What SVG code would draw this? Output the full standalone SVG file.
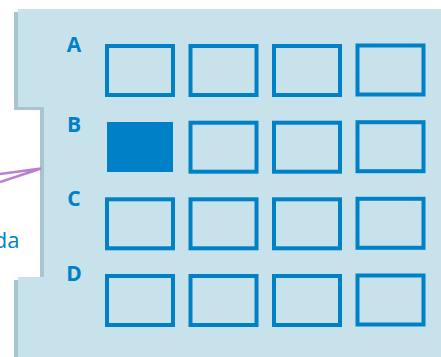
<svg xmlns="http://www.w3.org/2000/svg" width="441" height="357" viewBox="0 0 441 357">
<style>
.lbl{font-family:"Open Sans","Liberation Sans",sans-serif;font-weight:700;font-size:21px;fill:#0080c7;text-anchor:middle}
.box{fill:none;stroke:#0080c7;stroke-width:4}
.fill{fill:#0080c7}
</style>
<defs>
<path id="panel" d="M18,9 H441 V357 H18 V277 H44 V107 H18 Z"/>
</defs>
<rect width="441" height="357" fill="#ffffff"/>
<use href="#panel" transform="translate(-4,3)" fill="#a8c4cf"/>
<use href="#panel" fill="#c7e2eb"/>
<g id="label-row-A"><text class="lbl" x="74" y="52">A</text></g>
<g id="label-row-B"><text class="lbl" x="74" y="132">B</text></g>
<g id="label-row-C"><text class="lbl" x="74" y="206">C</text></g>
<g id="label-row-D"><text class="lbl" x="74" y="281">D</text></g>
<g id="A1"><rect class="box" x="107" y="46" width="66" height="49"/></g>
<g id="A2"><rect class="box" x="190.5" y="46" width="66" height="49"/></g>
<g id="A3"><rect class="box" x="274" y="46" width="66" height="49"/></g>
<g id="A4"><rect class="box" x="357.5" y="45.5" width="66" height="49"/></g>
<g id="B1"><rect class="fill" x="107" y="122" width="66" height="50"/></g>
<g id="B2"><rect class="box" x="190.5" y="122.7" width="66" height="49"/></g>
<g id="B3"><rect class="box" x="274" y="122.7" width="66" height="49"/></g>
<g id="B4"><rect class="box" x="357.5" y="122.2" width="66" height="49"/></g>
<g id="C1"><rect class="box" x="107" y="199.3" width="66" height="49"/></g>
<g id="C2"><rect class="box" x="190.5" y="199.3" width="66" height="49"/></g>
<g id="C3"><rect class="box" x="274" y="199.3" width="66" height="49"/></g>
<g id="C4"><rect class="box" x="357.5" y="198.8" width="66" height="49"/></g>
<g id="D1"><rect class="box" x="107" y="276" width="66" height="49"/></g>
<g id="D2"><rect class="box" x="190.5" y="276" width="66" height="49"/></g>
<g id="D3"><rect class="box" x="274" y="276" width="66" height="49"/></g>
<g id="D4"><rect class="box" x="357.5" y="275.5" width="66" height="49"/></g>
<g id="connectors">
<polyline points="0,174 41,168.5 0,182" fill="none" stroke="#b980d2" stroke-width="2.5" stroke-linejoin="miter"/>
</g>
<g id="caption"><text x="19.5" y="248" font-family="Open Sans, Liberation Sans, sans-serif" font-size="22" fill="#0080c7" text-anchor="end">da</text></g>
</svg>
